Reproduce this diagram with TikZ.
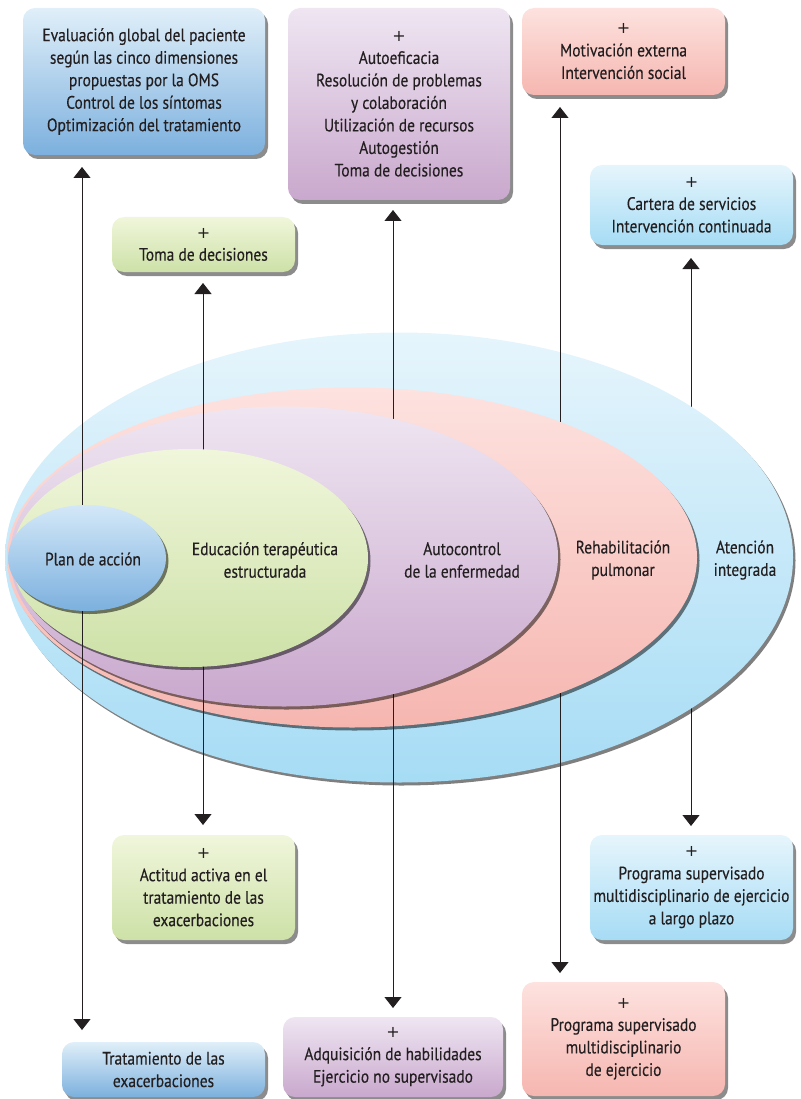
\documentclass[tikz,border=0pt]{standalone}
\usepackage{fontspec}
\setmainfont{PT Sans}[FakeStretch=0.86,FakeBold=0.3]
\newfontfamily\plusfont{DejaVu Sans}
\usetikzlibrary{shapes.geometric,shadows,arrows.meta}
\definecolor{txt}{HTML}{231F20}
\definecolor{bluT}{HTML}{E0EFF9}\definecolor{bluB}{HTML}{7CB0DE}
\definecolor{plnT}{HTML}{D3E8F8}
\definecolor{purT}{HTML}{EFE6F2}\definecolor{purB}{HTML}{C9A8CD}
\definecolor{pinT}{HTML}{FDE2DF}\definecolor{pinB}{HTML}{F6B6B0}
\definecolor{cyaT}{HTML}{E6F5FC}\definecolor{cyaB}{HTML}{A6DCF5}
\definecolor{grnT}{HTML}{F0F6DB}\definecolor{grnB}{HTML}{CDE1A7}
\newcommand{\pls}{{\plusfont\fontsize{16}{22.5}\selectfont +}}
\begin{document}
\begin{tikzpicture}[x=1pt,y=-1pt,
  font=\fontsize{18}{22.5}\selectfont, text=txt,
  box/.style={rectangle, rounded corners=12pt, align=center, inner sep=0pt,
    drop shadow={shadow xshift=3pt,shadow yshift=-4pt,opacity=0.45,fill=black}},
  bluebox/.style={box, top color=bluT, bottom color=bluB},
  purbox/.style={box, top color=purT, bottom color=purB},
  pinbox/.style={box, top color=pinT, bottom color=pinB},
  cyabox/.style={box, top color=cyaT, bottom color=cyaB},
  grnbox/.style={box, top color=grnT, bottom color=grnB},
  ell/.style={ellipse, inner sep=0pt,
    drop shadow={shadow xshift=2.5pt,shadow yshift=-3pt,opacity=0.5,fill=black}},
  lbl/.style={align=center, inner sep=0pt},
  conn/.style={draw=txt, line width=0.9pt,
    {Triangle[width=17pt,length=11pt]}-{Triangle[width=17pt,length=11pt]}}]
\useasboundingbox (0,0) rectangle (800,1099);

% Boxes
\node[bluebox, minimum width=242pt, minimum height=147pt] (eval) at (144,81.5)
  {Evaluación global del paciente\\según las cinco dimensiones\\propuestas por la OMS\\Control de los síntomas\\Optimización del tratamiento};
\node[purbox, minimum width=222pt, minimum height=192pt] (autotop) at (399,104)
  {\pls\\Autoeficacia\\Resolución de problemas\\y colaboración\\Utilización de recursos\\Autogestión\\Toma de decisiones};
\node[pinbox, minimum width=203pt, minimum height=87pt] (mot) at (623.5,51.5)
  {\pls\\Motivación externa\\Intervención social};
\node[cyabox, minimum width=203pt, minimum height=80pt] (cartera) at (691.5,205)
  {\pls\\Cartera de servicios\\Intervención continuada};
\node[grnbox, minimum width=183pt, minimum height=55pt] (toma) at (203.5,244.5)
  {\pls\\Toma de decisiones};
\node[grnbox, minimum width=183pt, minimum height=105pt] (actitud) at (203.5,887.5)
  {\pls\\Actitud activa en el\\tratamiento de las\\exacerbaciones};
\node[bluebox, minimum width=203pt, minimum height=55pt] (trat) at (163.5,1069.5)
  {Tratamiento de las\\exacerbaciones};
\node[purbox, minimum width=220pt, minimum height=80pt] (adq) at (393,1057)
  {\pls\\Adquisición de habilidades\\Ejercicio no supervisado};
\node[cyabox, minimum width=203pt, minimum height=105pt] (largo) at (691.5,887.5)
  {\pls\\Programa supervisado\\multidisciplinario de ejercicio\\a largo plazo};
\node[pinbox, minimum width=203pt, minimum height=114pt] (progr) at (623.5,1039)
  {\pls\\Programa supervisado\\multidisciplinario\\de ejercicio};

% connector end points
\coordinate (t1) at (82,167);  \coordinate (b1) at (82,1030);
\coordinate (t2) at (203,283); \coordinate (b2) at (203,825);
\coordinate (t3) at (393,210); \coordinate (b3) at (393,1008);
\coordinate (t4) at (560,107); \coordinate (b4) at (560,973);
\coordinate (t5) at (691,258); \coordinate (b5) at (691,826);

% Ellipses with connectors beneath their own ellipse
\draw[conn] (t5) -- (b5);
\node[ell, minimum width=788pt, minimum height=450pt, top color=cyaT, bottom color=cyaB] (eAten) at (399,557.5) {};
\draw[conn] (t4) -- (b4);
\node[ell, minimum width=690pt, minimum height=340pt, top color=pinT, bottom color=pinB] (eRehab) at (352,557.5) {};
\draw[conn] (t3) -- (b3);
\node[ell, minimum width=548pt, minimum height=300pt, top color=purT, bottom color=purB] (eAuto) at (284,556.5) {};
\draw[conn] (t2) -- (b2);
\node[ell, minimum width=356pt, minimum height=218pt, top color=grnT, bottom color=grnB] (eEdu) at (190,558) {};
\draw[conn] (t1) -- (b1);
\node[ell, minimum width=158pt, minimum height=106pt, top color=plnT, bottom color=bluB] (ePlan) at (87,558) {};

% Ellipse labels
\node[lbl] (lPlan) at (93,559) {Plan de acción};
\node[lbl] (lEdu) at (265,560) {Educación terapéutica\\estructurada};
\node[lbl] (lAuto) at (462,560) {Autocontrol\\de la enfermedad};
\node[lbl] (lRehab) at (623,560) {Rehabilitación\\pulmonar};
\node[lbl] (lAten) at (745,560) {Atención\\integrada};
\end{tikzpicture}
\end{document}
